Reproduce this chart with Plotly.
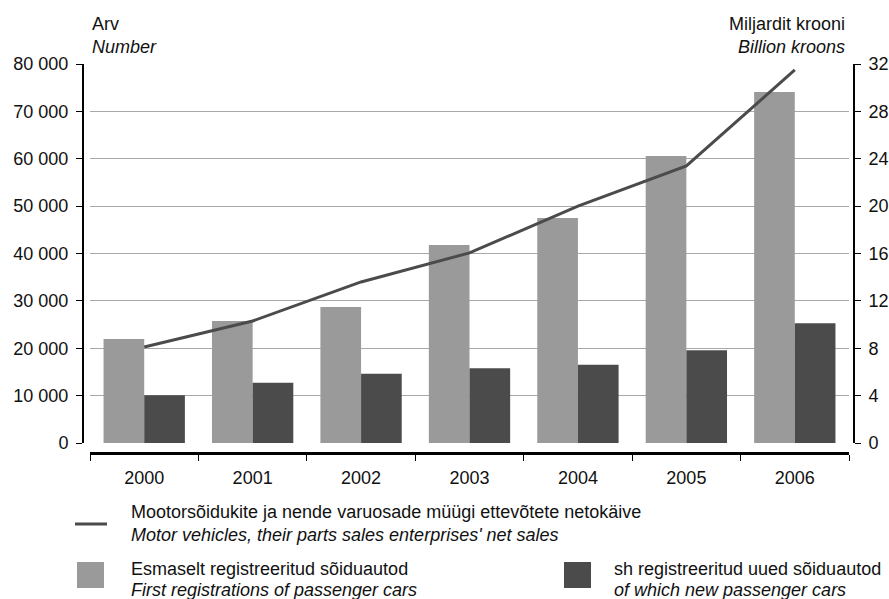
import plotly.graph_objects as go

years = ["2000", "2001", "2002", "2003", "2004", "2005", "2006"]
first_reg = [21950, 25750, 28700, 41800, 47500, 60600, 74100]
new_cars = [10100, 12700, 14600, 15800, 16500, 19600, 25300]
net_sales = [8.1, 10.3, 13.6, 16.05, 20.0, 23.4, 31.5]

left_ticks = [0, 10000, 20000, 30000, 40000, 50000, 60000, 70000, 80000]
right_ticks = [0, 4, 8, 12, 16, 20, 24, 28, 32]

W, H = 889, 599


def px(x):
    return x / W


def py(y):
    return (H - y) / H


FONT = "Liberation Sans, Arial, sans-serif"
FS = 18
LIGHT = "#9a9a9a"
DARK = "#4b4b4b"

fig = go.Figure()
fig.add_trace(go.Bar(x=years, y=first_reg, marker_color=LIGHT, marker_line_width=0,
                     name="Esmaselt registreeritud sõiduautod"))
fig.add_trace(go.Bar(x=years, y=new_cars, marker_color=DARK, marker_line_width=0,
                     name="sh registreeritud uued sõiduautod"))
fig.add_trace(go.Scatter(x=years, y=net_sales, yaxis="y2", mode="lines",
                         line=dict(color="#4b4b4b", width=3),
                         name="Mootorsõidukite ja nende varuosade müügi ettevõtete netokäive"))

fig.update_layout(
    width=W, height=H,
    margin=dict(l=0, r=0, t=0, b=0, pad=0, autoexpand=False),
    paper_bgcolor="white", plot_bgcolor="white",
    font=dict(family=FONT, size=FS, color="#111111"),
    separators=". ",
    showlegend=False,
    barmode="group", bargap=0.25, bargroupgap=0,
    xaxis=dict(domain=[px(90), px(849)], anchor="free", position=py(453),
               automargin=False,
               showline=True, linecolor="black", linewidth=2.5,
               ticks="outside", tickson="boundaries", ticklen=6, tickwidth=1.2,
               tickcolor="black", showgrid=False, ticklabelstandoff=8,
               tickfont=dict(size=FS)),
    yaxis=dict(domain=[py(443), py(64)], range=[0, 80000], tickvals=left_ticks,
               tickformat=",d", anchor="free", position=px(83), automargin=False,
               showline=True, linecolor="black", linewidth=2,
               ticks="outside", ticklen=6, tickwidth=1.2, tickcolor="black",
               showgrid=True, gridcolor="#a8a8a8", gridwidth=1,
               zeroline=False, ticklabelstandoff=4, tickfont=dict(size=FS)),
    yaxis2=dict(range=[0, 32], tickvals=right_ticks, overlaying="y", side="right",
                anchor="free", position=px(854), automargin=False,
                showline=True, linecolor="black", linewidth=2,
                ticks="outside", ticklen=6, tickwidth=1.2, tickcolor="black",
                showgrid=False, zeroline=False, ticklabelstandoff=4,
                tickfont=dict(size=FS)),
)

annots = [
    ("Arv", 90, 24, "left", False),
    ("Number", 90, 47, "left", True),
    ("Miljardit krooni", 847, 24, "right", False),
    ("Billion kroons", 847, 47, "right", True),
    ("Mootorsõidukite ja nende varuosade müügi ettevõtete netokäive", 129, 512, "left", False),
    ("Motor vehicles, their parts sales enterprises' net sales", 129, 535, "left", True),
    ("Esmaselt registreeritud sõiduautod", 129, 569, "left", False),
    ("First registrations of passenger cars", 129, 590, "left", True),
    ("sh registreeritud uued sõiduautod", 612, 569, "left", False),
    ("of which new passenger cars", 612, 590, "left", True),
]
for text, x, y, anchor, ital in annots:
    fig.add_annotation(text=f"<i>{text}</i>" if ital else text,
                       x=px(x), y=py(y), xref="paper", yref="paper",
                       xanchor=anchor, yanchor="middle", showarrow=False,
                       font=dict(size=FS, family=FONT, color="#111111"))

fig.add_shape(type="line", xref="paper", yref="paper",
              x0=px(75), x1=px(107), y0=py(524), y1=py(524),
              line=dict(color="#4b4b4b", width=3))
fig.add_shape(type="rect", xref="paper", yref="paper",
              x0=px(77), x1=px(104), y0=py(562), y1=py(588),
              fillcolor=LIGHT, line_width=0)
fig.add_shape(type="rect", xref="paper", yref="paper",
              x0=px(564), x1=px(591), y0=py(562), y1=py(588),
              fillcolor=DARK, line_width=0)

fig.write_html(
    "out.html",
    config={"displayModeBar": False},
    post_script="document.body.style.margin='0';document.body.style.overflow='hidden';",
)
